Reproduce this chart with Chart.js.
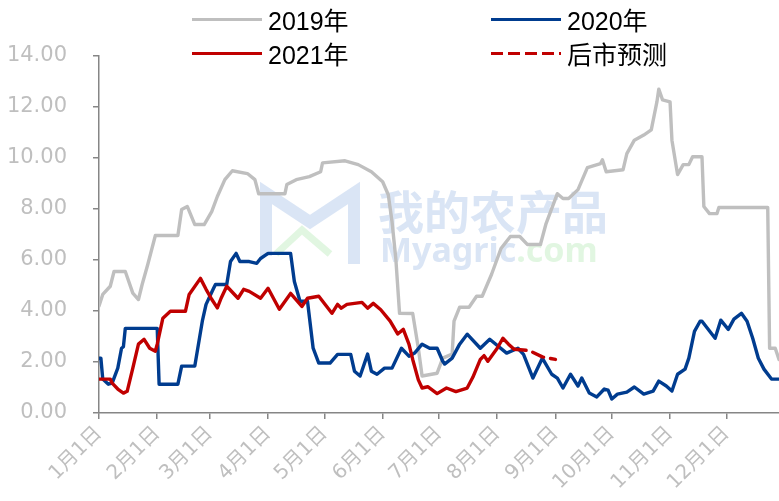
<!DOCTYPE html>
<html lang="zh">
<head>
    <meta charset="UTF-8">
    <title>价格走势</title>
    <script src="https://cdn.jsdelivr.net/npm/chart.js"></script>
    <style>
        html, body { margin: 0; padding: 0; background: #fff; }
        .wrap { position: relative; width: 779px; height: 501px; }
        .legend-item { position: absolute; height: 30px; display: flex; align-items: center;
            font-family: "Liberation Sans", "Noto Sans CJK SC", sans-serif; font-size: 25px; color: #000; }
        .swatch { width: 70px; height: 3px; margin-right: 6px; }
    </style>
</head>
<body>
<div class="wrap">
    <canvas id="priceChart"></canvas>

    <!-- legend, two per row like the original -->
    <div class="legend-item" style="left:192px; top:4px;"><span class="swatch" style="background:#bfbfbf"></span>2019年</div>
    <div class="legend-item" style="left:491px; top:4px;"><span class="swatch" style="background:#003c8f"></span>2020年</div>
    <div class="legend-item" style="left:192px; top:38px;"><span class="swatch" style="background:#c00000"></span>2021年</div>
    <div class="legend-item" style="left:491px; top:38px;"><span class="swatch" style="background:repeating-linear-gradient(to right,#c00000 0 12px,transparent 12px 17px)"></span>后市预测</div>
</div>

<script>
    // day of year -> price
    const monthStarts = [0, 31, 59, 90, 120, 151, 181, 212, 243, 273, 304, 334];
    const monthLabels = ['1月1日', '2月1日', '3月1日', '4月1日', '5月1日', '6月1日',
        '7月1日', '8月1日', '9月1日', '10月1日', '11月1日', '12月1日'];

    const days2019 = [0,2,6,8,14,18,21,23,26,30,42,44,47,51,56,60,63,67,71,79,83,85,99,100,105,112,118,119,131,138,
        145,151,154,156,158,160,167,170,172,180,183,188,189,192,197,201,204,209,214,219,224,228,235,238,244,247,250,255,260,267,
        268,270,279,281,285,290,294,297,298,300,304,305,308,311,314,316,321,322,325,329,330,356,357,360,362];
    const price2019 = [4.2,4.65,4.97,5.55,5.55,4.7,4.45,5.05,5.83,6.96,6.96,7.98,8.1,7.39,7.39,7.9,8.49,9.15,9.5,9.39,
        9.15,8.6,8.6,8.96,9.15,9.27,9.46,9.81,9.89,9.74,9.46,9.07,8.56,7.5,6.06,3.91,3.9,2.54,1.45,1.56,
        2.15,2.31,3.6,4.15,4.15,4.58,4.58,5.44,6.45,6.92,6.92,6.61,6.61,7.43,8.6,8.41,8.41,8.76,9.62,9.78,
        9.93,9.46,9.54,10.17,10.7,10.9,11.1,12.2,12.7,12.28,12.2,10.7,9.35,9.74,9.74,10.05,10.05,8.1,7.82,7.82,
        8.06,8.06,2.54,2.54,2.1];

    const days2020 = [0,1,2,5,7,10,12,13,14,31,32,42,44,51,55,57,61,62,68,70,73,75,80,84,86,90,102,104,107,111,
        114,117,123,127,134,136,139,143,145,148,152,156,161,165,168,172,176,180,183,184,188,192,196,203,208,217,223,226,231,236,
        241,244,247,251,255,257,261,265,269,271,273,276,281,285,290,295,298,302,305,308,312,314,317,320,321,328,331,335,338,342,
        345,348,351,354,358,362];
    const price2020 = [2.15,2.15,1.33,1.13,1.17,1.76,2.54,2.6,3.32,3.32,1.13,1.13,1.84,1.84,3.6,4.26,4.89,5.04,5.04,5.94,
        6.26,5.94,5.94,5.87,6.06,6.26,6.26,5.16,4.38,4.38,2.54,1.96,1.96,2.3,2.3,1.64,1.45,2.31,1.64,1.52,
        1.76,1.76,2.54,2.23,2.35,2.7,2.54,2.54,2.03,1.92,2.15,2.7,3.09,2.54,2.89,2.35,2.54,2.3,1.37,2.15,
        1.52,1.37,0.98,1.52,1.06,1.37,0.78,0.63,0.94,0.9,0.55,0.74,0.82,1.02,0.74,0.86,1.25,1.06,0.86,1.52,
        1.72,2.15,3.2,3.6,3.6,2.93,3.64,3.28,3.68,3.91,3.6,2.93,2.15,1.72,1.33,1.33];

    const days2021 = [0,6,7,10,13,15,18,21,24,27,30,31,34,38,46,48,54,57,60,63,65,68,74,77,80,86,90,96,102,108,
        111,117,124,127,129,132,140,143,146,150,155,159,162,165,167,170,172,175,180,185,190,196,199,203,205,207,212,215,218,221];
    const price2021 = [1.33,1.33,1.17,0.94,0.78,0.85,1.76,2.7,2.89,2.54,2.42,2.7,3.72,3.99,3.99,4.65,5.28,4.85,4.46,4.12,
        4.5,4.97,4.5,4.85,4.77,4.5,4.89,4.07,4.69,4.18,4.5,4.58,3.91,4.26,4.11,4.26,4.34,4.11,4.3,4.05,
        3.6,3.1,3.28,2.7,2.1,1.3,0.98,1.03,0.76,0.98,0.84,0.98,1.4,2.1,2.25,2.03,2.54,2.93,2.7,2.5];

    const daysForecast = [221, 229, 236, 243];
    const priceForecast = [2.5, 2.45, 2.2, 2.1];

    const toPoints = (xs, ys) => xs.map((d, i) => ({ x: d, y: ys[i] }));

    const axisGray = '#868686';
    const labelGray = '#bfbfbf';

    // faint site watermark behind the lines
    const watermark = {
        id: 'watermark',
        beforeDatasetsDraw(chart) {
            const ctx = chart.ctx;
            ctx.save();
            ctx.lineJoin = 'miter';
            ctx.strokeStyle = 'rgba(150,180,225,0.35)';
            ctx.lineWidth = 12;
            ctx.beginPath();
            ctx.moveTo(266, 256); ctx.lineTo(266, 193); ctx.lineTo(310, 222);
            ctx.lineTo(354, 193); ctx.lineTo(354, 264);
            ctx.stroke();
            ctx.strokeStyle = 'rgba(170,230,170,0.35)';
            ctx.lineWidth = 7;
            ctx.beginPath();
            ctx.moveTo(276, 254); ctx.lineTo(302, 230); ctx.lineTo(330, 254);
            ctx.stroke();
            ctx.fillStyle = 'rgba(150,180,225,0.35)';
            ctx.font = 'bold 46px "Noto Sans CJK SC"';
            ctx.textBaseline = 'middle';
            ctx.fillText('我的农产品', 378, 212);
            ctx.font = 'bold 34px "Noto Sans"';
            ctx.fillText('Myagric', 380, 252);
            const w = ctx.measureText('Myagric').width;
            ctx.fillStyle = 'rgba(170,230,170,0.35)';
            ctx.fillText('.com', 380 + w, 252);
            ctx.restore();
        }
    };

    new Chart(document.getElementById('priceChart'), {
        type: 'line',
        data: {
            datasets: [
                { label: '2019年', data: toPoints(days2019, price2019), borderColor: '#bfbfbf', order: 3 },
                { label: '2020年', data: toPoints(days2020, price2020), borderColor: '#003c8f', order: 2 },
                { label: '2021年', data: toPoints(days2021, price2021), borderColor: '#c00000', order: 1 },
                { label: '后市预测', data: toPoints(daysForecast, priceForecast), borderColor: '#c00000',
                  borderDash: [12, 7], order: 0 }
            ]
        },
        options: {
            responsive: true,
            maintainAspectRatio: false,
            animation: false,
            layout: { padding: { top: 56, left: 0, right: 0, bottom: 0 } },
            elements: {
                line: { borderWidth: 3.4, tension: 0, fill: false, borderJoinStyle: 'round', borderCapStyle: 'round' },
                point: { radius: 0 }
            },
            plugins: {
                legend: { display: false },
                tooltip: { enabled: false }
            },
            scales: {
                x: {
                    type: 'linear',
                    min: 0,
                    max: 362,
                    afterBuildTicks: s => { s.ticks = monthStarts.map(v => ({ value: v })); },
                    afterFit: s => { s.height = 88; },
                    ticks: {
                        autoSkip: false,
                        minRotation: 45,
                        maxRotation: 45,
                        padding: 3,
                        color: labelGray,
                        font: { family: '"DejaVu Sans", "Noto Sans CJK SC"', size: 20 },
                        callback: (v, i) => monthLabels[i]
                    },
                    grid: { drawOnChartArea: false, tickLength: 6, color: axisGray, lineWidth: 1.5 },
                    border: { color: axisGray, width: 1.5 }
                },
                y: {
                    min: 0,
                    max: 14,
                    afterFit: s => { s.width = 99; },
                    ticks: {
                        stepSize: 2,
                        padding: 26,
                        color: labelGray,
                        font: { family: '"DejaVu Sans"', size: 21 },
                        callback: v => v.toFixed(2)
                    },
                    grid: { drawOnChartArea: false, tickLength: 6, color: axisGray, lineWidth: 1.5 },
                    border: { color: axisGray, width: 1.5 }
                }
            }
        },
        plugins: [watermark]
    });
</script>
</body>
</html>
